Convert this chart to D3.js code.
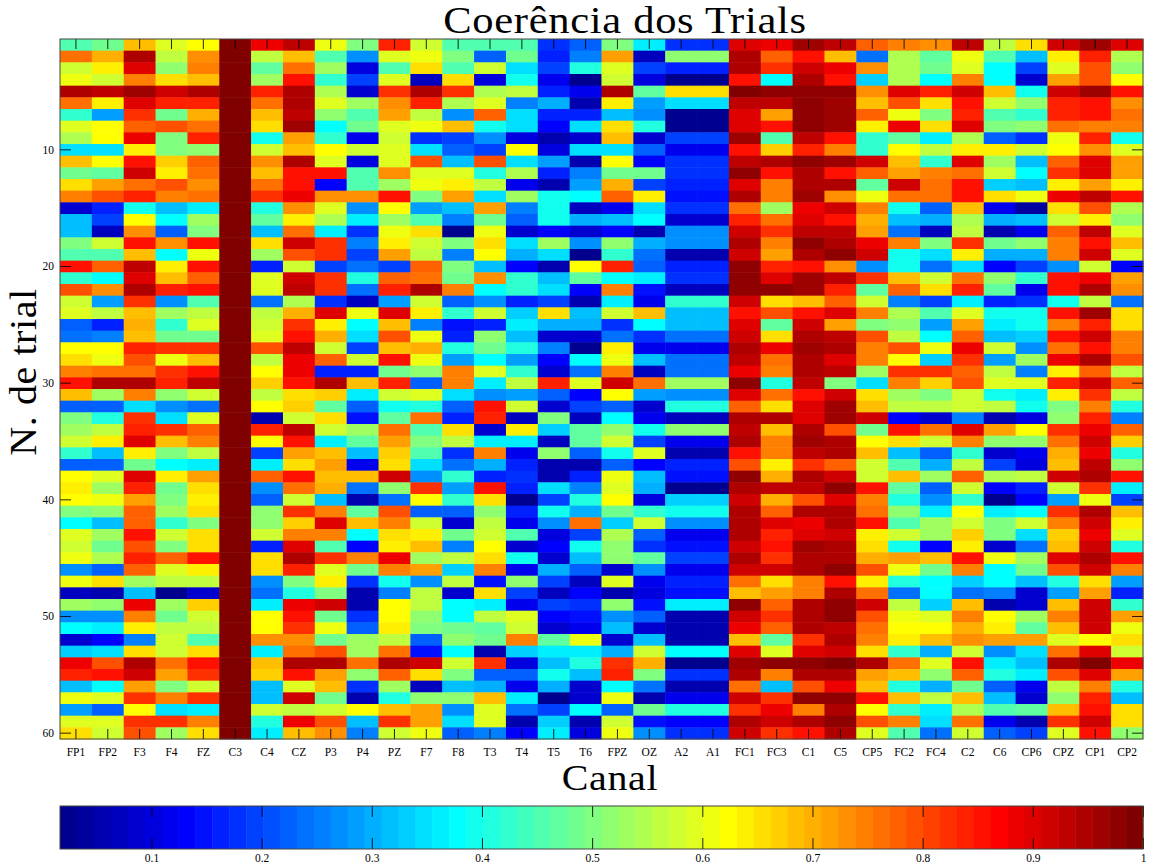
<!DOCTYPE html>
<html>
<head>
<meta charset="utf-8">
<script src="https://cdn.jsdelivr.net/npm/d3@7"></script>
<style>
	body { margin: 0; background: #fff; }
	text { font-family: "Liberation Serif", "DejaVu Serif", serif; fill: #000; }
	.tick text { font-size: 11.5px; }
</style>
</head>
<body>
<div id="chart"></div>
<script>
// channel names, left to right
var canais = ["FP1","FP2","F3","F4","FZ","C3","C4","CZ","P3","P4","PZ","F7","F8","T3","T4","T5","T6","FPZ","OZ","A2","A1","FC1","FC3","C1","C5","CP5","FC2","FC4","C2","C6","CP6","CPZ","CP1","CP2"];
var trialTicks = [10, 20, 30, 40, 50, 60];
var barTicks = [0.1, 0.2, 0.3, 0.4, 0.5, 0.6, 0.7, 0.8, 0.9, 1];

// coherence per trial (1 to 60), in hundredths
var FP1 = [46,76,58,61,94,76,43,60,55,35,69,48,66,75,9,31,31,50,45,86,43,80,57,60,23,24,62,66,74,85,68,22,50,53,57,43,22,62,64,62,50,38,60,58,61,27,61,7,53,27,38,9,33,88,84,32,61,29,59,66];
var FP2 = [48,70,64,58,93,64,29,62,62,34,62,47,71,80,17,20,7,57,45,78,38,73,29,56,16,25,62,61,76,95,53,23,41,56,64,31,22,60,53,61,52,32,53,48,55,22,66,5,52,27,37,13,35,80,86,38,60,22,59,58];
var F3 = [69,94,90,75,96,90,82,78,88,64,86,92,76,84,40,62,73,86,68,93,90,94,82,68,70,68,84,80,76,95,75,34,82,84,90,64,48,90,84,71,77,78,85,80,84,78,53,31,89,75,64,25,66,94,92,71,83,63,82,80];
var F4 = [60,56,52,65,92,84,49,80,50,50,67,64,80,75,31,38,22,73,38,64,68,84,27,53,43,48,82,61,82,84,52,27,35,82,68,50,38,64,48,50,53,43,58,50,78,60,56,3,53,48,56,57,58,76,71,50,75,35,82,53];
var FZ = [62,73,75,68,94,84,70,76,84,52,78,76,73,76,36,53,50,86,61,86,78,86,45,56,59,48,82,69,86,93,57,24,60,78,75,56,37,72,66,64,66,50,66,66,86,64,56,8,67,58,56,45,66,85,82,58,83,37,75,66];
var C3 = [100,100,100,100,100,100,100,100,100,100,100,100,100,100,100,100,100,100,100,100,100,100,100,100,100,100,100,100,100,100,100,100,100,100,100,100,100,100,100,100,100,100,100,100,100,100,100,100,100,100,100,100,100,100,100,100,100,100,100,100];
var C4 = [88,56,47,53,84,76,69,66,40,58,73,68,76,82,41,47,31,66,53,17,59,60,24,56,58,60,80,56,63,67,56,62,5,84,62,20,37,78,27,22,52,52,58,16,66,65,27,24,37,63,63,73,37,68,67,31,31,58,41,37];
var CZ = [93,69,76,86,95,95,93,96,71,69,95,86,85,88,73,64,76,92,80,57,92,93,55,70,82,85,93,88,88,86,65,67,58,93,86,72,66,85,76,57,82,67,74,90,94,84,50,41,88,86,82,73,76,95,86,60,92,56,88,68];
var P3 = [61,45,53,43,55,59,52,38,43,62,59,86,13,73,60,55,36,82,82,20,82,82,18,90,64,70,57,78,16,95,67,47,66,57,37,68,71,69,70,32,75,90,74,45,82,60,64,50,92,48,61,48,80,95,71,68,48,57,80,73];
var P4 = [50,27,10,20,9,53,45,48,12,57,10,45,45,73,27,36,18,25,20,24,41,24,7,61,38,34,20,58,16,69,37,23,15,53,47,32,11,69,24,5,47,69,38,13,75,48,18,6,6,18,23,53,53,76,52,18,6,63,31,25];
var PZ = [84,60,45,60,82,73,71,60,57,59,60,73,53,85,62,53,61,64,71,20,78,84,28,90,68,80,68,86,48,84,57,39,47,76,71,67,65,91,52,24,80,75,66,64,88,75,39,25,62,62,64,56,76,95,77,53,41,68,82,58];
var F7 = [57,61,66,7,95,84,56,61,18,35,80,60,61,50,29,45,65,57,56,78,76,95,57,64,25,61,70,61,52,23,59,41,76,45,50,45,34,27,82,62,22,58,64,68,53,71,27,56,56,52,50,22,15,92,66,7,52,72,72,61];
var F8 = [45,50,45,65,82,55,27,69,20,22,31,59,64,71,31,25,2,50,25,50,48,75,22,43,15,16,41,29,75,75,35,23,16,65,56,18,24,43,29,43,22,9,48,25,56,33,56,9,38,38,48,52,38,58,50,31,52,27,35,22];
var T3 = [45,23,58,10,55,59,78,39,27,20,80,41,56,34,71,48,61,66,62,31,73,38,27,57,16,52,48,38,60,36,27,85,84,9,37,75,30,16,85,65,52,56,57,62,66,75,15,66,36,56,47,48,5,82,22,30,68,60,60,25];
var T4 = [45,48,35,39,56,25,34,34,10,62,35,55,12,53,25,23,8,34,30,13,43,43,16,33,37,31,41,29,43,56,29,57,7,64,37,12,16,18,16,2,16,12,45,9,39,11,52,20,11,59,57,75,33,10,23,12,37,24,5,13];
var T5 = [18,16,20,12,17,30,17,13,6,10,29,17,5,39,39,39,13,53,34,6,32,35,20,65,30,9,25,13,9,84,22,9,50,33,7,52,5,5,35,20,39,27,10,13,9,30,20,7,20,13,8,47,36,31,39,30,2,20,33,37];
var T6 = [23,25,41,3,12,6,17,34,9,34,5,25,29,38,7,30,9,27,3,62,47,13,5,31,30,8,3,38,24,60,13,20,7,47,47,22,5,16,25,41,30,76,20,39,31,22,7,13,18,15,12,61,36,41,31,9,9,38,5,10];
var FPZ = [50,71,60,58,94,64,32,65,68,34,62,48,70,78,12,31,13,52,43,84,38,75,37,57,18,24,64,61,75,92,62,23,38,52,57,39,22,61,60,62,48,33,55,52,52,8,60,5,52,27,31,9,30,82,84,38,61,22,57,61];
var OZ = [37,7,20,10,47,29,27,41,9,23,13,48,20,64,34,38,5,30,24,22,36,15,12,68,38,18,12,32,7,76,29,9,12,39,20,60,13,32,30,10,43,57,23,18,47,27,11,10,15,23,8,32,57,70,50,24,5,48,15,27];
var A2 = [18,51,16,3,65,34,2,2,20,11,18,18,16,15,18,9,27,27,5,16,18,7,43,31,31,24,11,24,24,53,27,41,7,52,11,6,16,15,3,33,39,27,12,15,20,12,16,15,37,5,5,6,38,3,18,6,12,41,13,18];
var A1 = [18,51,16,3,65,34,2,2,20,11,18,18,16,15,18,9,27,27,5,16,18,7,43,31,31,24,11,24,24,53,27,41,7,52,11,6,16,15,3,33,39,27,12,15,20,12,16,15,37,5,5,6,38,3,18,6,12,41,13,18];
var FC1 = [90,94,95,85,99,93,90,90,96,85,93,98,90,95,76,84,91,95,92,97,97,98,91,85,90,92,95,93,88,98,90,78,94,93,95,85,80,97,95,92,94,95,94,92,94,91,76,68,98,92,88,69,90,96,94,76,92,82,94,92];
var FC3 = [88,78,82,38,98,93,71,86,45,67,95,86,75,75,53,76,82,75,71,84,90,98,66,80,47,66,88,76,75,41,76,65,95,68,75,74,64,70,93,70,77,90,84,86,82,91,65,72,77,82,78,47,60,98,75,31,82,88,91,82];
var C1 = [96,86,92,94,98,98,98,98,93,84,98,95,95,96,88,90,93,97,94,85,96,96,69,86,91,95,96,94,95,93,85,90,90,95,96,93,82,95,93,80,95,88,90,96,94,94,75,75,95,94,94,82,90,98,95,80,97,75,94,86];
var C5 = [93,69,88,85,97,96,96,96,86,75,96,86,94,73,91,85,93,95,97,73,93,84,78,90,71,93,94,90,93,50,91,96,96,80,95,94,78,92,97,90,95,95,92,95,94,98,85,94,98,98,93,94,91,99,95,88,97,94,97,94];
var CP5 = [78,24,73,33,73,68,78,64,43,43,91,78,47,61,75,70,71,88,92,27,82,47,58,75,50,80,75,74,53,35,66,69,91,48,62,69,57,57,86,74,76,85,64,65,70,80,64,76,92,80,76,75,66,94,72,68,85,62,80,59];
var FC2 = [75,55,55,55,90,80,61,88,47,62,69,71,92,76,39,32,24,74,39,39,68,78,25,55,52,56,80,62,82,74,53,56,13,86,65,31,45,68,47,41,52,45,58,39,71,61,41,24,56,61,62,64,43,76,68,41,68,43,75,45];
var FC4 = [73,47,48,38,84,65,50,66,37,56,43,74,76,76,22,30,7,50,34,24,57,66,20,45,29,38,61,33,82,67,50,56,9,76,57,22,30,53,22,27,36,53,53,13,68,48,38,38,33,60,62,68,30,60,52,30,56,37,34,24];
var C2 = [93,61,60,74,92,86,84,90,55,64,90,76,85,85,68,55,56,82,64,35,76,84,37,60,71,77,88,82,78,80,58,58,25,90,74,43,56,77,58,43,62,57,67,64,85,74,33,24,69,75,70,73,57,86,78,48,68,55,76,57];
var C6 = [56,45,38,38,68,58,45,50,22,64,53,57,33,66,12,30,6,48,30,13,52,47,16,39,36,32,58,29,56,60,39,56,5,71,52,9,20,55,13,3,36,50,50,9,61,38,38,25,5,62,64,71,27,36,41,22,31,45,11,22];
var CP6 = [65,32,20,9,39,52,43,52,18,57,32,38,32,61,4,32,12,52,30,20,43,11,18,39,39,33,27,53,25,60,36,39,10,62,52,12,10,56,16,13,38,58,34,24,53,48,31,9,9,53,47,71,35,31,37,12,9,47,6,20];
var CPZ = [91,64,60,71,92,84,84,76,61,62,78,82,64,88,66,57,77,75,75,27,85,86,39,86,74,86,76,89,64,84,64,50,52,82,76,70,69,91,57,29,82,74,67,69,90,80,41,29,68,74,68,60,76,95,80,56,52,68,82,60];
var CP1 = [96,84,80,80,96,85,85,74,84,73,90,90,71,93,80,64,93,85,92,57,88,95,56,96,84,92,86,95,78,91,82,75,84,88,91,88,93,94,82,61,94,92,88,92,94,92,65,71,91,91,91,63,90,99,90,75,84,85,92,86];
var CP2 = [90,55,52,62,85,73,76,74,39,60,72,71,64,86,55,52,60,69,60,13,71,73,24,66,66,74,75,80,56,78,56,41,25,78,67,41,52,86,36,20,68,64,60,41,85,74,29,16,43,71,61,65,57,88,72,41,32,66,66,52];

var valores = [FP1,FP2,F3,F4,FZ,C3,C4,CZ,P3,P4,PZ,F7,F8,T3,T4,T5,T6,FPZ,OZ,A2,A1,FC1,FC3,C1,C5,CP5,FC2,FC4,C2,C6,CP6,CPZ,CP1,CP2];

var margin = { top: 39, left: 60 },
	width = 1083,
	height = 700;

var svg = d3.select("#chart")
	.append("svg")
	.attr("width", 1149)
	.attr("height", 868)
	.style("display", "block");

var plot = svg.append("g")
	.attr("transform", "translate(" + margin.left + "," + margin.top + ")");

// flatten to one record per cell
var cells = [];
valores.forEach((serie, c) => {
	serie.forEach((v, t) => {
		cells.push({ canal: canais[c], trial: t + 1, value: v / 100 });
	});
});

var x = d3.scaleBand().domain(canais).range([0, width]);
var y = d3.scaleBand().domain(d3.range(1, 61)).range([0, height]);

// matlab jet, 64 steps
var jet = (t) => {
	var r = Math.max(0, Math.min(1, Math.min(4 * t - 1.5, -4 * t + 4.5)));
	var g = Math.max(0, Math.min(1, Math.min(4 * t - 0.5, -4 * t + 3.5)));
	var b = Math.max(0, Math.min(1, Math.min(4 * t + 0.5, -4 * t + 2.5)));
	return d3.rgb(r * 255, g * 255, b * 255).formatHex();
};
var colors = d3.range(64).map((i) => jet((i + 1) / 64));
var color = d3.scaleQuantize().domain([0.017, 1]).range(colors);

plot.selectAll("rect.cell")
	.data(cells)
	.join("rect")
	.attr("class", "cell")
	.attr("x", (d) => x(d.canal))
	.attr("y", (d) => y(d.trial))
	.attr("width", x.bandwidth() + 0.5)
	.attr("height", y.bandwidth() + 0.5)
	.attr("fill", (d) => color(d.value));

// ticks point inward on all four sides
var styleAxis = (g) => {
	g.select(".domain").remove();
	g.selectAll("line").attr("stroke", "#000").attr("stroke-opacity", 0.85);
};

plot.append("g")
	.attr("transform", "translate(0," + height + ")")
	.call(d3.axisBottom(x).tickSize(-10).tickPadding(9))
	.call(styleAxis);
plot.append("g")
	.call(d3.axisTop(x).tickSize(-10).tickFormat(""))
	.call(styleAxis);
plot.append("g")
	.call(d3.axisLeft(y).tickValues(trialTicks).tickSize(-11).tickPadding(6))
	.call(styleAxis);
plot.append("g")
	.attr("transform", "translate(" + width + ",0)")
	.call(d3.axisRight(y).tickValues(trialTicks).tickSize(-11).tickFormat(""))
	.call(styleAxis);

plot.append("rect")
	.attr("width", width)
	.attr("height", height)
	.attr("fill", "none")
	.attr("stroke", "#444");

// labels, stretched a bit to get the width of the original font
svg.append("text")
	.attr("transform", "translate(625,33)scale(1.15,1)")
	.attr("text-anchor", "middle")
	.style("font-size", "37px")
	.style("letter-spacing", "0.6px")
	.text("Coerência dos Trials");

svg.append("text")
	.attr("transform", "translate(610,790)scale(1.11,1)")
	.attr("text-anchor", "middle")
	.style("font-size", "36px")
	.style("letter-spacing", "0.6px")
	.text("Canal");

svg.append("text")
	.attr("transform", "translate(36,372)rotate(-90)scale(1.05,1)")
	.attr("text-anchor", "middle")
	.style("font-size", "38px")
	.style("letter-spacing", "0.6px")
	.text("N. de trial");

// colorbar
var barHeight = 43;
var bar = svg.append("g")
	.attr("transform", "translate(" + margin.left + ",806)");
var barX = d3.scaleLinear().domain([0.017, 1]).range([0, width]);

bar.selectAll("rect.step")
	.data(colors)
	.join("rect")
	.attr("class", "step")
	.attr("x", (d) => barX(color.invertExtent(d)[0]))
	.attr("width", (d) => barX(color.invertExtent(d)[1]) - barX(color.invertExtent(d)[0]) + 0.5)
	.attr("height", barHeight)
	.attr("fill", (d) => d);

bar.append("g")
	.attr("transform", "translate(0," + barHeight + ")")
	.call(d3.axisBottom(barX).tickValues(barTicks).tickFormat((d) => d).tickSize(-11).tickPadding(5))
	.call(styleAxis);
bar.append("g")
	.call(d3.axisTop(barX).tickValues(barTicks).tickFormat("").tickSize(-11))
	.call(styleAxis);

bar.append("rect")
	.attr("width", width)
	.attr("height", barHeight)
	.attr("fill", "none")
	.attr("stroke", "#444");
</script>
</body>
</html>
